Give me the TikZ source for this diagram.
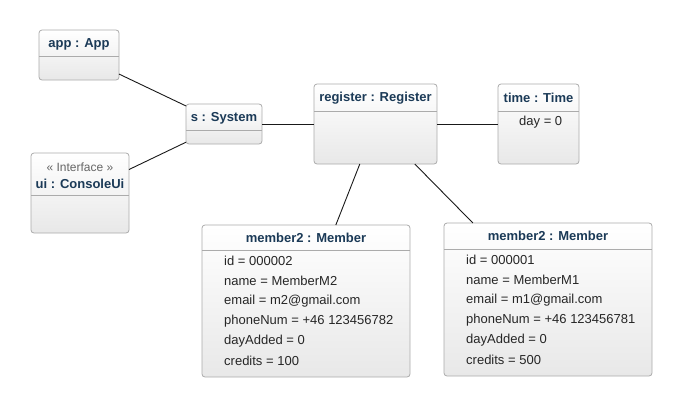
\documentclass[tikz,border=0pt]{standalone}
\usepackage{fontspec}
\setmainfont{Liberation Sans}
\usepackage{tikz}

\definecolor{titleblue}{HTML}{1B3A57}
\definecolor{boxline}{HTML}{ABABAB}
\tikzset{
  obj/.style={draw=boxline, line width=0.8pt, rounded corners=3pt, top color=white, bottom color=black!9, inner sep=0pt, outer sep=0pt},
  objtitle/.style={font=\fontsize{13}{15}\selectfont\bfseries, text=titleblue, inner sep=0pt},
  attr/.style={font=\fontsize{13}{15}\selectfont, text=black!85, anchor=west, inner sep=0pt},
  link/.style={line width=0.9pt, black!90}
}

\begin{document}
\begin{tikzpicture}[x=1pt, y=-1pt]
\useasboundingbox (0,0) rectangle (682,407);
% objects
\node[obj, minimum width=80pt, minimum height=50pt] (app) at (79,55) {};
\node[obj, minimum width=76pt, minimum height=40pt] (sys) at (224,124) {};
\node[obj, minimum width=98pt, minimum height=80pt] (ui) at (80,193) {};
\node[obj, minimum width=123pt, minimum height=80pt] (reg) at (375.5,124) {};
\node[obj, minimum width=81pt, minimum height=80pt] (time) at (538.5,124) {};
\node[obj, minimum width=208pt, minimum height=152pt] (mem2) at (306,301) {};
\node[obj, minimum width=208pt, minimum height=153pt] (mem1) at (548,299.5) {};
% header lines
\draw[boxline, line width=0.8pt] (39,56) -- (119,56);
\draw[boxline, line width=0.8pt] (186,130) -- (262,130);
\draw[boxline, line width=0.8pt] (31,195) -- (129,195);
\draw[boxline, line width=0.8pt] (314,111) -- (437,111);
\draw[boxline, line width=0.8pt] (498,111) -- (579,111);
\draw[boxline, line width=0.8pt] (202,250) -- (410,250);
\draw[boxline, line width=0.8pt] (444,249) -- (652,249);
% titles
\node[objtitle] (apptitle) at (79,44.5) {app : App};
\node[objtitle] (systitle) at (224,118.5) {s : System};
\node[objtitle, font=\fontsize{12}{14}\selectfont, text=black!60] (uistereo) at (80,167) {« Interface »};
\node[objtitle] (uititle) at (80,184) {ui : ConsoleUi};
\node[objtitle] (regtitle) at (375.5,98) {register : Register};
\node[objtitle] (timetitle) at (538.5,98) {time : Time};
\node[objtitle] (mem2title) at (306,238) {member2 : Member};
\node[objtitle] (mem1title) at (548,236) {member2 : Member};
% attributes
\node[attr] (timeday) at (519,122) {day = 0};
\node[attr] (m2id) at (224,261) {id = 000002};
\node[attr] (m2name) at (224,281) {name = MemberM2};
\node[attr] (m2email) at (224,301) {email = m2@gmail.com};
\node[attr] (m2phone) at (224,321) {phoneNum = +46 123456782};
\node[attr] (m2day) at (224,341) {dayAdded = 0};
\node[attr] (m2cred) at (224,361) {credits = 100};
\node[attr] (m1id) at (466,260) {id = 000001};
\node[attr] (m1name) at (466,280) {name = MemberM1};
\node[attr] (m1email) at (466,300) {email = m1@gmail.com};
\node[attr] (m1phone) at (466,320) {phoneNum = +46 123456781};
\node[attr] (m1day) at (466,340) {dayAdded = 0};
\node[attr] (m1cred) at (466,360) {credits = 500};
% links
\draw[link] (app) -- (sys);
\draw[link] (ui) -- (sys);
\draw[link] (sys) -- (reg);
\draw[link] (reg) -- (time);
\draw[link] (reg) -- (mem2);
\draw[link] (reg) -- (mem1);
\end{tikzpicture}
\end{document}
